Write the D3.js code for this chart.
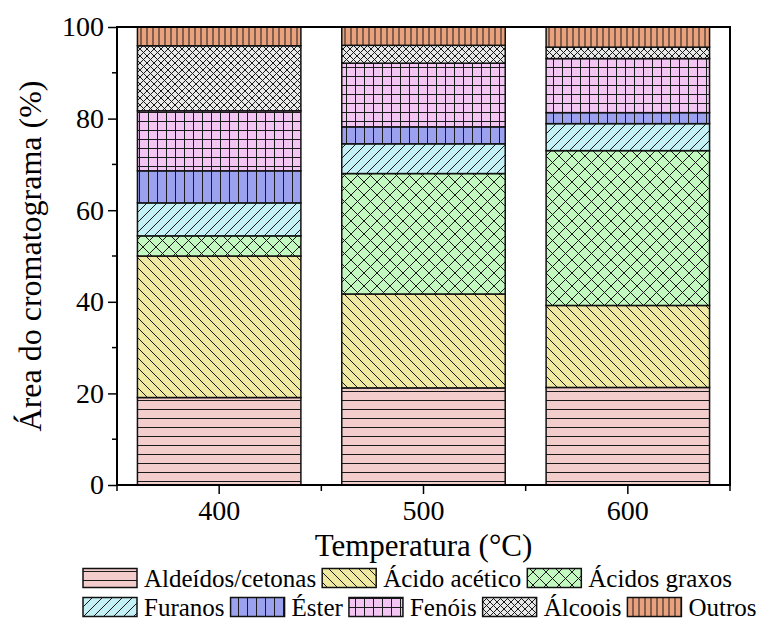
<!DOCTYPE html>
<html>
<head>
<meta charset="utf-8">
<script src="https://cdn.jsdelivr.net/npm/d3@7/dist/d3.min.js"></script>
</head>
<body style="margin:0; background:#fff">
<div id="chart"></div>
<script>
// dados
const temperaturas = ['400', '500', '600'];
const grupos = ['Aldeídos/cetonas', 'Ácido acético', 'Ácidos graxos', 'Furanos', 'Éster', 'Fenóis', 'Álcoois', 'Outros'];
const aldeidos = [19.1, 21.2, 21.3];
const acidoAcetico = [30.9, 20.5, 17.9];
const acidosGraxos = [4.4, 26.3, 33.8];
const furanos = [7.2, 6.5, 5.9];
const ester = [7.0, 3.7, 2.4];
const fenois = [13.1, 13.9, 11.8];
const alcoois = [14.2, 3.9, 2.5];
const outros = [4.1, 4.0, 4.4];
const yTicks = [0, 20, 40, 60, 80, 100];

const series = [aldeidos, acidoAcetico, acidosGraxos, furanos, ester, fenois, alcoois, outros];

const width = 771, height = 622;
const margin = { top: 27, right: 41, bottom: 137, left: 117 };
const fonte = 'Liberation Serif';

const svg = d3.select('#chart').append('svg')
  .attr('width', width)
  .attr('height', height)
  .attr('font-family', fonte);

// padrões de preenchimento (hachuras)
const defs = svg.append('defs');
const estilos = [
  { fill: '#f3cccc', size: 9, paths: ['M0,4.5H9'] },
  { fill: '#f0e9a2', size: 10, paths: ['M0,0L10,10', 'M-5,5L5,15', 'M5,-5L15,5'] },
  { fill: '#c3f9c1', size: 13, paths: ['M0,0L13,13', 'M13,0L0,13'] },
  { fill: '#c3f1f5', size: 10, paths: ['M0,10L10,0', 'M-5,5L5,-5', 'M5,15L15,5'] },
  { fill: '#9ba1ee', size: 9, paths: ['M4.5,0V9'] },
  { fill: '#f3c5f3', size: 9, paths: ['M4.5,0V9', 'M0,4.5H9'] },
  { fill: '#e8e8e8', size: 7, paths: ['M0,0L7,7', 'M7,0L0,7'] },
  { fill: '#e9a27d', size: 6, paths: ['M3,0V6'] }
];

estilos.forEach((e, i) => {
  const p = defs.append('pattern')
    .attr('id', 'pat' + i)
    .attr('patternUnits', 'userSpaceOnUse')
    .attr('width', e.size)
    .attr('height', e.size);
  p.append('rect').attr('width', e.size).attr('height', e.size).attr('fill', e.fill);
  e.paths.forEach(d => {
    p.append('path').attr('d', d).attr('stroke', '#1a1a1a').attr('stroke-width', 1).attr('fill', 'none');
  });
});

const x = d3.scaleBand()
  .domain(temperaturas)
  .range([margin.left, width - margin.right])
  .paddingInner(0.2)
  .paddingOuter(0.1);

const y = d3.scaleLinear()
  .domain([0, 100])
  .range([height - margin.bottom, margin.top]);

// empilhamento
const tabela = temperaturas.map((t, j) => {
  const row = { temp: t };
  grupos.forEach((g, i) => { row[g] = series[i][j]; });
  return row;
});
const stack = d3.stack().keys(grupos)(tabela);

const camadas = svg.append('g').attr('class', 'bars')
  .selectAll('g')
  .data(stack)
  .enter()
  .append('g')
  .attr('fill', (d, i) => `url(#pat${i})`);

camadas.selectAll('rect')
  .data(d => d)
  .enter()
  .append('rect')
  .attr('x', d => x(d.data.temp))
  .attr('y', d => y(d[1]))
  .attr('width', x.bandwidth())
  .attr('height', d => y(d[0]) - y(d[1]))
  .attr('stroke', '#111')
  .attr('stroke-width', 1.5);

// eixos
const x0 = margin.left, x1 = width - margin.right;
const y0 = height - margin.bottom, y1 = margin.top;

const yAxis = svg.append('g')
  .attr('transform', `translate(${x0},0)`)
  .call(d3.axisLeft(y).tickValues(yTicks).tickSize(9).tickPadding(4))
  .attr('font-family', fonte)
  .attr('font-size', 28);
yAxis.select('.domain').remove();
yAxis.selectAll('line').attr('stroke', '#000').attr('stroke-width', 1.5);
yAxis.selectAll('text').attr('fill', '#000');

// ticks menores do eixo y
svg.append('g').selectAll('line')
  .data(d3.range(10, 100, 20))
  .enter()
  .append('line')
  .attr('x1', x0 - 5).attr('x2', x0)
  .attr('y1', d => y(d)).attr('y2', d => y(d))
  .attr('stroke', '#000').attr('stroke-width', 1.5);

const xAxis = svg.append('g')
  .attr('transform', `translate(0,${y0})`)
  .call(d3.axisBottom(x).tickSize(9).tickPadding(6))
  .attr('font-family', fonte)
  .attr('font-size', 28);
xAxis.select('.domain').remove();
xAxis.selectAll('line').attr('stroke', '#000').attr('stroke-width', 1.5);
xAxis.selectAll('text').attr('fill', '#000');

// ticks menores entre categorias
const step = x.step();
svg.append('g').selectAll('line')
  .data(d3.range(0, temperaturas.length + 1))
  .enter()
  .append('line')
  .attr('x1', i => x0 + i * step).attr('x2', i => x0 + i * step)
  .attr('y1', y0).attr('y2', y0 + 6)
  .attr('stroke', '#000').attr('stroke-width', 1.5);

// moldura
svg.append('rect')
  .attr('x', x0).attr('y', y1)
  .attr('width', x1 - x0).attr('height', y0 - y1)
  .attr('fill', 'none')
  .attr('stroke', '#000')
  .attr('stroke-width', 2);

// títulos dos eixos
svg.append('text')
  .attr('x', (x0 + x1) / 2)
  .attr('y', 556)
  .attr('text-anchor', 'middle')
  .attr('font-family', fonte)
  .attr('font-size', 31)
  .text('Temperatura (°C)');

svg.append('text')
  .attr('transform', `translate(41,${(y0 + y1) / 2}) rotate(-90)`)
  .attr('text-anchor', 'middle')
  .attr('font-family', fonte)
  .attr('font-size', 32)
  .text('Área do cromatograma (%)');

// legenda
const linhas = [[0, 1, 2], [3, 4, 5, 6, 7]];
const swW = 54, swH = 19;
linhas.forEach((linha, r) => {
  let cx = 83;
  const cy = 578 + r * 29;
  linha.forEach(i => {
    const item = svg.append('g');
    item.append('rect')
      .attr('x', cx).attr('y', cy - swH / 2)
      .attr('width', swW).attr('height', swH)
      .attr('fill', `url(#pat${i})`)
      .attr('stroke', '#111').attr('stroke-width', 1.5);
    const t = item.append('text')
      .attr('x', cx + swW + 7)
      .attr('y', cy)
      .attr('dy', '0.35em')
      .attr('font-family', fonte)
      .attr('font-size', 25)
      .text(grupos[i]);
    cx += swW + 7 + t.node().getComputedTextLength() + 6;
  });
});
</script>
</body>
</html>
